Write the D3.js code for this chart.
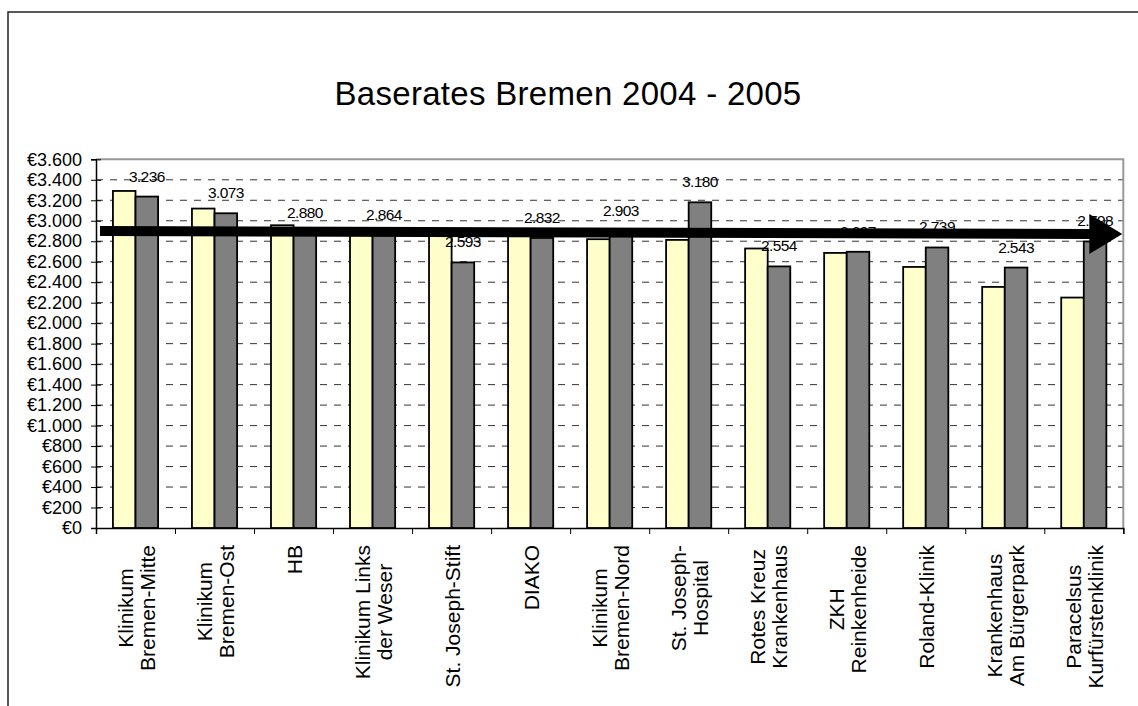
<!DOCTYPE html>
<html>
<head>
<meta charset="utf-8">
<script src="https://cdn.jsdelivr.net/npm/d3@7"></script>
<style>
  body { margin: 0; background: #ffffff; }
  svg text { font-family: "Liberation Sans", Arial, sans-serif; fill: #000; }
</style>
</head>
<body>
<div id="chart"></div>
<script>
// hospitals (label lines), base rates 2004 and 2005
var hospitals = [
  ["Klinikum", "Bremen-Mitte"], ["Klinikum", "Bremen-Ost"], ["HB"],
  ["Klinikum Links", "der Weser"], ["St. Joseph-Stift"], ["DIAKO"],
  ["Klinikum", "Bremen-Nord"], ["St. Joseph-", "Hospital"],
  ["Rotes Kreuz", "Krankenhaus"], ["ZKH", "Reinkenheide"], ["Roland-Klinik"],
  ["Krankenhaus", "Am Bürgerpark"], ["Paracelsus", "Kurfürstenklinik"]
];
var rate2004 = [3291, 3119, 2956, 2900, 2880, 2900, 2820, 2813, 2729, 2686, 2549, 2354, 2250];
var rate2005 = [3236, 3073, 2880, 2864, 2593, 2832, 2903, 3180, 2554, 2697, 2739, 2543, 2798];
var yTicks = d3.range(0, 3601, 200);
var trend = [2900, 2870]; // arrow start / end level

function draw() {
  var W = 1138, H = 706;
  var pLeft = 96, pRight = 1123.3, pTop = 159.3, pBottom = 528;

  var de = d3.formatLocale({decimal: ",", thousands: ".", grouping: [3], currency: ["€", ""]});
  var fmt = de.format(",");

  var svg = d3.select("#chart").append("svg").attr("width", W).attr("height", H);

  // outer chart frame
  svg.append("rect").attr("x", 8).attr("y", 12).attr("width", 1200).attr("height", 800)
     .attr("fill", "none").attr("stroke", "#222").attr("stroke-width", 1.5);

  // title
  svg.append("text").attr("x", 568).attr("y", 105).attr("text-anchor", "middle")
     .style("font-size", "33px").style("letter-spacing", "0.3px")
     .text("Baserates Bremen 2004 - 2005");

  var idx = d3.range(hospitals.length);
  var x0 = d3.scaleBand().domain(idx).range([pLeft, pRight]);
  var x1 = d3.scaleBand().domain(["2004", "2005"]).range([0, x0.bandwidth()])
     .paddingInner(0).paddingOuter(0.75);
  var xEdge = d3.scaleLinear().domain([0, hospitals.length]).range([pLeft, pRight]);
  var y = d3.scaleLinear().domain([0, 3600]).range([pBottom, pTop]);

  // gridlines
  svg.append("g").selectAll("line").data(yTicks.filter(function(d){ return d > 0 && d < 3600; }))
    .enter().append("line")
    .attr("x1", pLeft).attr("x2", pRight)
    .attr("y1", function(d){ return y(d); }).attr("y2", function(d){ return y(d); })
    .attr("stroke", "#333").attr("stroke-width", 1).attr("stroke-dasharray", "7,7");

  // plot border top/right
  svg.append("path")
     .attr("d", "M" + pLeft + "," + pTop + "H" + pRight + "V" + pBottom)
     .attr("fill", "none").attr("stroke", "#999").attr("stroke-width", 2);

  // bars
  var groups = svg.append("g").selectAll("g").data(idx).enter().append("g")
     .attr("transform", function(i){ return "translate(" + x0(i) + ",0)"; });

  groups.append("rect")
     .attr("x", x1("2004")).attr("width", x1.bandwidth())
     .attr("y", function(i){ return y(rate2004[i]); })
     .attr("height", function(i){ return pBottom - y(rate2004[i]); })
     .attr("fill", "#FFFFCC").attr("stroke", "#000").attr("stroke-width", 1.8);

  groups.append("rect")
     .attr("x", x1("2005")).attr("width", x1.bandwidth())
     .attr("y", function(i){ return y(rate2005[i]); })
     .attr("height", function(i){ return pBottom - y(rate2005[i]); })
     .attr("fill", "#808080").attr("stroke", "#000").attr("stroke-width", 1.8);

  // data labels (2005)
  groups.append("text")
     .attr("x", x1("2005") + x1.bandwidth() / 2)
     .attr("y", function(i){ return y(rate2005[i]) - 15; })
     .attr("text-anchor", "middle")
     .style("font-size", "15.5px").style("letter-spacing", "-0.6px")
     .text(function(i){ return fmt(rate2005[i]); });

  // y axis
  var yAxis = svg.append("g").attr("transform", "translate(" + pLeft + ",0)")
     .call(d3.axisLeft(y).tickValues(yTicks).tickSize(5).tickPadding(9)
          .tickFormat(function(d){ return "€" + fmt(d); }));
  yAxis.select(".domain").attr("stroke", "#000").attr("stroke-width", 1.5);
  yAxis.selectAll(".tick line").attr("x2", 5).attr("x1", -5).attr("stroke", "#000");
  yAxis.selectAll("text").style("font-size", "18px");

  // x axis
  var xAxis = svg.append("g").attr("transform", "translate(0," + pBottom + ")")
     .call(d3.axisBottom(xEdge).tickValues(d3.range(hospitals.length + 1)).tickSize(6).tickFormat(""));
  xAxis.select(".domain").attr("stroke", "#000").attr("stroke-width", 1.5);
  xAxis.selectAll(".tick line").attr("stroke", "#000");

  // category labels, rotated
  idx.forEach(function(i){
    var lines = hospitals[i];
    var g = svg.append("g")
       .attr("transform", "translate(" + (x0(i) + x0.bandwidth() / 2 + 1) + ",545) rotate(-90)");
    var t = g.selectAll("text").data(lines).enter().append("text")
       .attr("y", function(d, k){ return (k - (lines.length - 1) / 2) * 22; })
       .attr("dominant-baseline", "central")
       .attr("text-anchor", "middle")
       .style("font-size", "21px")
       .text(function(d){ return d; });
    var maxLen = d3.max(t.nodes(), function(n){ return n.getComputedTextLength(); });
    t.attr("x", -maxLen / 2);
  });

  // trend arrow
  var ax0 = pLeft + 4, axTip = pRight - 1, headLen = 33, headHalf = 20;
  var ay0 = y(trend[0]), ayTip = y(trend[1]);
  var axBase = axTip - headLen;
  var ayBase = ay0 + (ayTip - ay0) * (axBase - ax0) / (axTip - ax0);
  svg.append("line").attr("x1", ax0).attr("y1", ay0).attr("x2", axBase + 2).attr("y2", ayBase)
     .attr("stroke", "#000").attr("stroke-width", 10);
  svg.append("path")
     .attr("d", "M" + axBase + "," + (ayBase - headHalf) + "L" + axTip + "," + ayTip +
                "L" + axBase + "," + (ayBase + headHalf) + "Z")
     .attr("fill", "#000");
}

draw();
</script>
</body>
</html>
